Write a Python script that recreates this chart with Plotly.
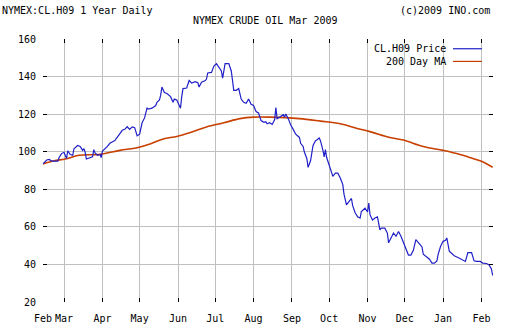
import plotly.graph_objects as go

# ---- data ----
price_dates = [
    "2008-02-13", "2008-02-16", "2008-02-18", "2008-02-20", "2008-02-25", "2008-02-26", "2008-02-28",
    "2008-03-01", "2008-03-03", "2008-03-04", "2008-03-06", "2008-03-08", "2008-03-09", "2008-03-12",
    "2008-03-14", "2008-03-16", "2008-03-17", "2008-03-18", "2008-03-19", "2008-03-21", "2008-03-24",
    "2008-03-25", "2008-03-26", "2008-03-28", "2008-03-30", "2008-03-31",
    "2008-04-01", "2008-04-05", "2008-04-07", "2008-04-11", "2008-04-14", "2008-04-17", "2008-04-19",
    "2008-04-21", "2008-04-23", "2008-04-25", "2008-04-27", "2008-04-29",
    "2008-05-01", "2008-05-03", "2008-05-05", "2008-05-07", "2008-05-08", "2008-05-11", "2008-05-14",
    "2008-05-15", "2008-05-17", "2008-05-18", "2008-05-19", "2008-05-21", "2008-05-23", "2008-05-26",
    "2008-05-28", "2008-05-29", "2008-05-31",
    "2008-06-03", "2008-06-04", "2008-06-05", "2008-06-08", "2008-06-10", "2008-06-12", "2008-06-15",
    "2008-06-17", "2008-06-18", "2008-06-20", "2008-06-23", "2008-06-24", "2008-06-25", "2008-06-28",
    "2008-06-30",
    "2008-07-02", "2008-07-04", "2008-07-06", "2008-07-07", "2008-07-09", "2008-07-12", "2008-07-14",
    "2008-07-15", "2008-07-16", "2008-07-18", "2008-07-20", "2008-07-22", "2008-07-24", "2008-07-26",
    "2008-07-28", "2008-07-30",
    "2008-08-01", "2008-08-03", "2008-08-05", "2008-08-07", "2008-08-09", "2008-08-11", "2008-08-12",
    "2008-08-14", "2008-08-16", "2008-08-18", "2008-08-19", "2008-08-20", "2008-08-22", "2008-08-25",
    "2008-08-26", "2008-08-27", "2008-08-29", "2008-08-31",
    "2008-09-02", "2008-09-04", "2008-09-07", "2008-09-08", "2008-09-10", "2008-09-11", "2008-09-13",
    "2008-09-14", "2008-09-16", "2008-09-17", "2008-09-18", "2008-09-20", "2008-09-21", "2008-09-23",
    "2008-09-24", "2008-09-26", "2008-09-27", "2008-09-28", "2008-09-29",
    "2008-10-01", "2008-10-03", "2008-10-04", "2008-10-06", "2008-10-08", "2008-10-10", "2008-10-12",
    "2008-10-13", "2008-10-15", "2008-10-17", "2008-10-19", "2008-10-20", "2008-10-22", "2008-10-24",
    "2008-10-26", "2008-10-27", "2008-10-30",
    "2008-11-01", "2008-11-02", "2008-11-03", "2008-11-05", "2008-11-07", "2008-11-09", "2008-11-11",
    "2008-11-12", "2008-11-15", "2008-11-17", "2008-11-18", "2008-11-20", "2008-11-22", "2008-11-24",
    "2008-11-26", "2008-11-28",
    "2008-12-01", "2008-12-04", "2008-12-06", "2008-12-08", "2008-12-10", "2008-12-12", "2008-12-15",
    "2008-12-16", "2008-12-19", "2008-12-21", "2008-12-23", "2008-12-25", "2008-12-27", "2008-12-28",
    "2008-12-30",
    "2009-01-01", "2009-01-03", "2009-01-04", "2009-01-06", "2009-01-08", "2009-01-10", "2009-01-13",
    "2009-01-16", "2009-01-19", "2009-01-21", "2009-01-24", "2009-01-26", "2009-01-28", "2009-01-31",
    "2009-02-02", "2009-02-05", "2009-02-07", "2009-02-09", "2009-02-10",
]
price_values = [
    93.6, 95.6, 95.9, 95.0, 95.0, 96.9, 99.0,
    99.7, 96.4, 100.4, 98.5, 98.1, 101.6, 103.3,
    102.8, 100.7, 101.6, 99.9, 96.1, 96.7, 97.3,
    101.1, 99.3, 98.1, 98.5, 96.9,
    100.4, 102.8, 104.5, 105.9, 109.0, 111.4, 111.9,
    113.3, 111.9, 113.2, 112.8, 108.5,
    109.3, 115.4, 118.0, 123.2, 122.7, 123.2, 124.6,
    126.3, 127.5, 130.1, 134.4, 131.5, 131.0, 129.3,
    126.3, 128.0, 127.5,
    123.2, 129.3, 133.6, 133.9, 137.9, 136.5, 137.3,
    136.7, 134.4, 137.0, 137.9, 138.7, 141.9, 142.2,
    145.6,
    146.9, 144.8, 143.0, 139.1, 146.9, 146.9, 143.0,
    137.9, 132.7, 132.7, 133.6, 128.0, 126.3, 125.8,
    128.0, 125.3,
    124.6, 121.4, 120.6, 116.6, 115.8, 115.9, 114.9,
    115.4, 114.5, 117.0, 123.5, 117.6, 118.4, 119.7,
    118.4, 120.1, 117.6, 114.2,
    111.9, 109.3, 107.6, 104.5, 102.8, 99.8, 96.4,
    91.7, 95.2, 98.7, 103.3, 105.9, 106.2, 107.3,
    105.9, 100.7, 97.3, 101.1, 96.9,
    92.9, 89.5, 86.9, 88.6, 88.6, 86.0, 82.6,
    77.4, 71.7, 73.4, 75.1, 71.3, 67.5, 65.3,
    64.7, 68.2, 69.9,
    67.9, 72.7, 66.5, 63.6, 64.7, 65.3, 58.4,
    59.3, 59.3, 56.7, 51.5, 54.1, 56.7, 55.0,
    57.5, 55.0,
    49.7, 45.0, 45.0, 47.5, 53.2, 51.5, 49.3,
    45.4, 44.0, 42.8, 40.7, 40.7, 41.9, 45.4,
    49.7,
    52.3, 52.8, 54.1, 47.1, 45.8, 44.6, 43.7,
    42.5, 41.6, 46.3, 46.3, 41.9, 41.6, 41.6,
    40.7, 40.5, 39.9, 37.6, 34.1,
]

ma_dates = [
    "2008-02-13", "2008-02-22", "2008-03-02", "2008-03-13", "2008-03-30", "2008-04-15", "2008-04-29",
    "2008-05-10", "2008-05-20", "2008-05-31", "2008-06-11", "2008-06-24", "2008-07-08", "2008-07-21",
    "2008-08-01", "2008-08-14", "2008-09-07", "2008-09-24", "2008-10-10", "2008-10-23", "2008-11-03",
    "2008-11-19", "2008-11-30", "2008-12-16", "2009-01-01", "2009-01-12", "2009-01-25", "2009-02-02",
    "2009-02-10",
]
ma_values = [
    93.5, 95.2, 96.1, 98.1, 98.6, 100.7, 102.1,
    104.2, 106.8, 108.1, 110.2, 113.2, 115.4, 117.6,
    118.4, 118.4, 117.6, 116.3, 114.9, 112.5, 110.7,
    107.6, 106.2, 102.8, 100.7, 99.0, 96.4, 94.7,
    91.7,
]

tick_dates = ["2008-02-13", "2008-03-01", "2008-04-01", "2008-05-01", "2008-06-01", "2008-07-01",
              "2008-08-01", "2008-09-01", "2008-10-01", "2008-11-01", "2008-12-01", "2009-01-01",
              "2009-02-01"]
tick_labels = ["Feb", "Mar", "Apr", "May", "Jun", "Jul", "Aug", "Sep", "Oct", "Nov", "Dec", "Jan", "Feb"]

series_names = ["CL.H09 Price", "200 Day MA"]
series_colors = ["#2020c8", "#c84000"]

FONT = "DejaVu Sans Mono"
GRID = "#c0c0c0"
X_RANGE = ["2008-02-13", "2009-02-10 07:00"]
Y_RANGE = [20, 160]

fig = go.Figure()
fig.add_trace(go.Scatter(x=ma_dates, y=ma_values, mode="lines", name=series_names[1],
                         line=dict(color=series_colors[1], width=1.6), line_shape="spline",
                         showlegend=False))
fig.add_trace(go.Scatter(x=price_dates, y=price_values, mode="lines", name=series_names[0],
                         line=dict(color=series_colors[0], width=1.2), showlegend=False))
# empty trace so the mirrored (top / right) tick axes are drawn
fig.add_trace(go.Scatter(x=[], y=[], xaxis="x2", yaxis="y2", showlegend=False, hoverinfo="skip"))

fig.update_layout(
    width=512, height=336,
    margin=dict(l=43, r=19, t=39, b=27),
    paper_bgcolor="white", plot_bgcolor="white",
    font=dict(family=FONT, size=10, color="#000000"),
    showlegend=False,
    xaxis=dict(
        type="date", range=X_RANGE,
        tickmode="array", tickvals=tick_dates, ticktext=tick_labels,
        showgrid=True, gridcolor=GRID, gridwidth=1,
        showline=False, zeroline=False,
        ticks="inside", ticklen=4, tickcolor="#000000",
        tickfont=dict(family=FONT, size=10, color="#000000"),
        ticklabelstandoff=9,
    ),
    yaxis=dict(
        range=Y_RANGE, tickmode="linear", tick0=20, dtick=20,
        showgrid=True, gridcolor=GRID, gridwidth=1,
        showline=False, zeroline=False,
        ticks="inside", ticklen=4, tickcolor="#000000",
        tickfont=dict(family=FONT, size=10, color="#000000"),
        ticklabelstandoff=6,
    ),
    xaxis2=dict(
        type="date", range=X_RANGE, overlaying="x", side="top",
        tickmode="array", tickvals=tick_dates,
        showgrid=False, showline=False, zeroline=False, showticklabels=False,
        ticks="inside", ticklen=4, tickcolor="#000000",
    ),
    yaxis2=dict(
        range=Y_RANGE, overlaying="y", side="right",
        tickmode="linear", tick0=20, dtick=20,
        showgrid=False, showline=False, zeroline=False, showticklabels=False,
        ticks="inside", ticklen=4, tickcolor="#000000",
    ),
)

# header texts
fig.add_annotation(text="NYMEX:CL.H09 1 Year Daily", xref="paper", yref="paper",
                   x=-43/450, y=1 + 29/270, xanchor="left", yanchor="middle",
                   showarrow=False, font=dict(family=FONT, size=10))
fig.add_annotation(text="(c)2009 INO.com", xref="paper", yref="paper",
                   x=1 + (492-493)/450, y=1 + 29/270, xanchor="right", yanchor="middle",
                   showarrow=False, font=dict(family=FONT, size=10))
fig.add_annotation(text="NYMEX CRUDE OIL Mar 2009", xref="paper", yref="paper",
                   x=(265-43)/450, y=1 + 19/270, xanchor="center", yanchor="middle",
                   showarrow=False, font=dict(family=FONT, size=10))

# legend (text on the left, line sample on the right)
legend_y = [1 - 10/270, 1 - 23/270]
for name, color, ly in zip(series_names, series_colors, legend_y):
    fig.add_annotation(text=name, xref="paper", yref="paper", x=(448-43)/450, y=ly,
                       xanchor="right", yanchor="middle", showarrow=False,
                       font=dict(family=FONT, size=10))
    fig.add_shape(type="line", xref="paper", yref="paper",
                  x0=(453-43)/450, x1=(482-43)/450, y0=ly, y1=ly,
                  line=dict(color=color, width=1.2))

fig.write_html("out.html")
